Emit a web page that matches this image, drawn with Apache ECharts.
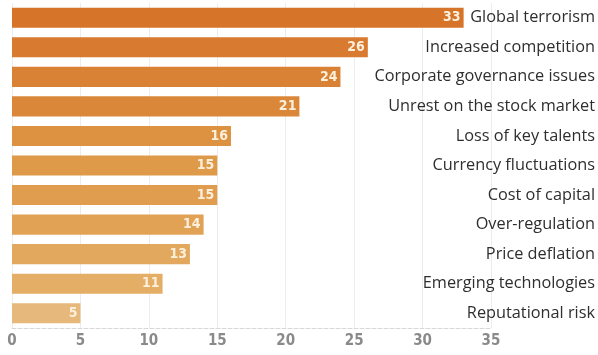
<!DOCTYPE html>
<html>
<head>
<meta charset="utf-8">
<script src="https://cdn.jsdelivr.net/npm/echarts@6/dist/echarts.min.js"></script>
<style>
  html, body { margin: 0; padding: 0; background: #ffffff; }
  #chart { width: 598px; height: 355px; }
</style>
</head>
<body>
<div id="chart"></div>
<script>
// Risks ranked by share of respondents (top to bottom)
const categories = [
  'Global terrorism',
  'Increased competition',
  'Corporate governance issues',
  'Unrest on the stock market',
  'Loss of key talents',
  'Currency fluctuations',
  'Cost of capital',
  'Over-regulation',
  'Price deflation',
  'Emerging technologies',
  'Reputational risk'
];
const values = [33, 26, 24, 21, 16, 15, 15, 14, 13, 11, 5];
const xTicks = [0, 5, 10, 15, 20, 25, 30, 35];

// Shades run from deep orange down to pale sand
const barColors = [
  '#D6752A', '#D87A2F', '#D98134', '#DB8739', '#DD9242',
  '#DF9A49', '#E09D4F', '#E1A256', '#E2A85D', '#E4AE67', '#E7B87B'
];

const chart = echarts.init(document.getElementById('chart'), null, { renderer: 'canvas' });

chart.setOption({
  animation: false,
  backgroundColor: '#ffffff',
  grid: { left: 12, right: 107, top: 3, bottom: 27, containLabel: false },
  xAxis: {
    type: 'value',
    min: xTicks[0],
    max: xTicks[xTicks.length - 1],
    interval: 5,
    axisLine: { show: true, lineStyle: { color: '#d8d8d8', type: 'dashed', width: 1 } },
    axisTick: { show: false },
    splitLine: { show: true, lineStyle: { color: '#ececec', width: 1 } },
    axisLabel: {
      color: '#8a8a8a',
      fontFamily: 'Liberation Sans Narrow, DejaVu Sans Condensed, sans-serif',
      fontWeight: 'bold',
      fontSize: 15,
      margin: 6
    }
  },
  yAxis: {
    type: 'category',
    data: categories,
    inverse: true,
    position: 'right',
    axisLine: { show: false },
    axisTick: { show: false },
    splitLine: { show: false },
    axisLabel: {
      color: '#2e2e2e',
      fontFamily: 'Open Sans, Lato, sans-serif',
      fontSize: 16.3,
      align: 'right',
      margin: 104
    }
  },
  series: [{
    type: 'bar',
    data: values.map((v, i) => ({ value: v, itemStyle: { color: barColors[i] } })),
    barCategoryGap: '32%',
    label: {
      show: true,
      position: 'insideRight',
      distance: 3,
      color: '#fbf0dc',
      fontFamily: 'Liberation Sans Narrow, DejaVu Sans Condensed, sans-serif',
      fontWeight: 'bold',
      fontSize: 14
    }
  }]
});
</script>
</body>
</html>
